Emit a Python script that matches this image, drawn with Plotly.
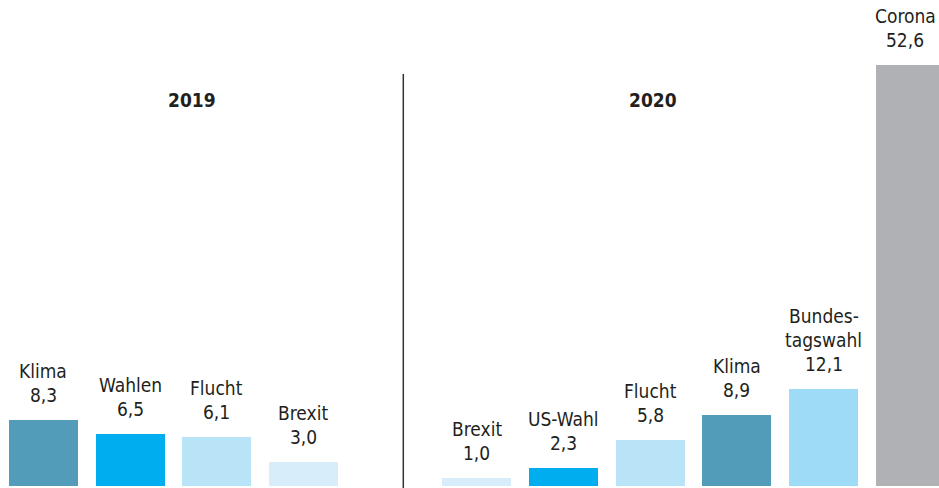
import plotly.graph_objects as go

# Themen und Anteile (Prozent) je Jahr
years = ["2019", "2020"]
topics_2019 = ["Klima", "Wahlen", "Flucht", "Brexit"]
values_2019 = [8.3, 6.5, 6.1, 3.0]
topics_2020 = ["Brexit", "US-Wahl", "Flucht", "Klima", "Bundes-\ntagswahl", "Corona"]
values_2020 = [1.0, 2.3, 5.8, 8.9, 12.1, 52.6]

topic_colors = {
    "Klima": "#529cba",
    "Wahlen": "#00aeef",
    "US-Wahl": "#00aeef",
    "Flucht": "#b9e4f8",
    "Brexit": "#d7eefa",
    "Bundes-\ntagswahl": "#9edbf6",
    "Corona": "#b0b1b5",
}

TEXT = "#231f20"
FONT = "Liberation Sans Narrow, Arial Narrow, DejaVu Sans Condensed, sans-serif"
LABEL_SIZE = 19
W, H = 939, 488
MB = 2
PX_PER_UNIT = 8.0
plot_h = H - MB
y_max = plot_h / PX_PER_UNIT
SLOT_PX = 86.7

def fmt(v):
    return f"{v:.1f}".replace(".", ",")

# Kategorien: 2019, eine Leerspalte als Trenner, 2020
keys_2019 = [f"2019|{t}" for t in topics_2019]
keys_2020 = [f"2020|{t}" for t in topics_2020]
gap_key = "gap"
category_order = keys_2019 + [gap_key] + keys_2020

fig = go.Figure()
for keys, topics, vals in [(keys_2019, topics_2019, values_2019),
                           (keys_2020, topics_2020, values_2020)]:
    fig.add_trace(go.Bar(
        x=keys, y=vals,
        marker=dict(color=[topic_colors[t] for t in topics], line=dict(width=0)),
        width=69 / SLOT_PX,
        hoverinfo="skip",
        showlegend=False,
    ))

# Beschriftung über den Balken: Thema (ggf. zweizeilig) und Wert
LINE = 24
BASE_SHIFT = 13
last_key = category_order[-1]
for keys, topics, vals in [(keys_2019, topics_2019, values_2019),
                           (keys_2020, topics_2020, values_2020)]:
    for k, t, v in zip(keys, topics, vals):
        lines = t.split("\n") + [fmt(v)]
        # the rightmost bar runs into the page edge, so its labels sit a bit left
        xshift = -5 if k == last_key else 0
        for i, line in enumerate(reversed(lines)):
            fig.add_annotation(
                x=k, y=v, xref="x", yref="y",
                text=line, showarrow=False,
                xanchor="center", yanchor="bottom",
                xshift=xshift,
                yshift=BASE_SHIFT + i * LINE,
                borderpad=0,
                font=dict(family=FONT, size=LABEL_SIZE, color=TEXT),
            )

# Jahreszahlen
for label, xc in zip(years, [192, 653]):
    fig.add_annotation(
        x=xc / W, y=(plot_h - 100) / plot_h, xref="paper", yref="paper",
        text=f"<b>{label}</b>", showarrow=False,
        xanchor="center", yanchor="middle",
        font=dict(family=FONT, size=LABEL_SIZE, color=TEXT),
    )

# Trennlinie zwischen den Jahren
fig.add_shape(
    type="line", xref="paper", yref="paper",
    x0=403.3 / W, x1=403.3 / W,
    y0=-MB / plot_h, y1=(plot_h - 74) / plot_h,
    line=dict(color="#333333", width=1.5),
)

n_slots_visible = W / SLOT_PX
fig.update_layout(
    width=W, height=H,
    margin=dict(l=0, r=0, t=0, b=MB, pad=0),
    paper_bgcolor="white", plot_bgcolor="white",
    bargap=0,
    xaxis=dict(
        type="category",
        categoryorder="array", categoryarray=category_order,
        range=[-0.5, -0.5 + n_slots_visible],
        showticklabels=False, showgrid=False, zeroline=False,
        showline=False, ticks="",
    ),
    yaxis=dict(
        range=[0, y_max],
        showticklabels=False, showgrid=False, zeroline=False,
        showline=False, ticks="",
    ),
)

fig.write_html("out.html")
